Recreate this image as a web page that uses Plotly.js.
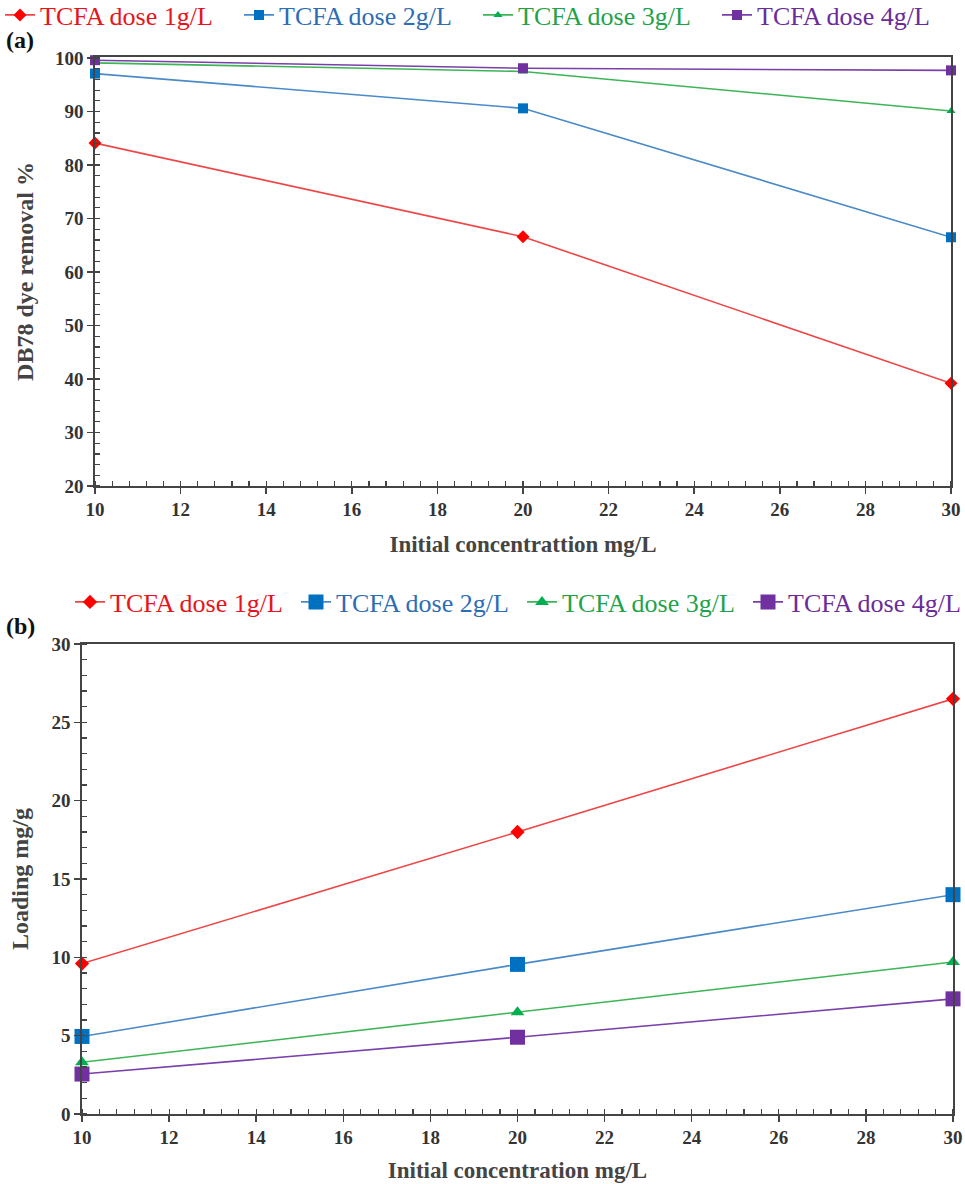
<!DOCTYPE html>
<html>
<head>
<meta charset="utf-8">
<script src="https://cdn.plot.ly/plotly-3.0.1.min.js"></script>
<style>
  html, body { margin: 0; padding: 0; background: #fff; }
  #chart { width: 965px; height: 1184px; }
</style>
</head>
<body>
<div id="chart"></div>
<script>
// Initial dye concentration (mg/L)
const conc = [10, 20, 30];

// (a) DB78 dye removal % for each TCFA dose
const removal1 = [84.1, 66.6, 39.2];
const removal2 = [97.1, 90.6, 66.5];
const removal3 = [99.1, 97.5, 90.1];
const removal4 = [99.6, 98.1, 97.7];

// (b) Loading mg/g for each TCFA dose
const loading1 = [9.6, 18.0, 26.5];
const loading2 = [4.95, 9.55, 14.0];
const loading3 = [3.3, 6.5, 9.7];
const loading4 = [2.55, 4.9, 7.35];

const seriesNames = ['TCFA dose 1g/L', 'TCFA dose 2g/L', 'TCFA dose 3g/L', 'TCFA dose 4g/L'];
const markerColors = ['#FF0000', '#0070C0', '#00B050', '#7030A0'];
const lineColors = ['#F04545', '#4A8AC8', '#3DB556', '#7A3FAA'];
const textColors = ['#E8141C', '#2E6DB4', '#1FA34A', '#6A2C9A'];
const symbols = ['diamond', 'square', 'triangle-up', 'square'];
const sizesA = [10, 10, 8, 10];
const sizesB = [11, 15, 12, 15];

const W = 965, H = 1184;
const SERIF = 'Liberation Serif, Times New Roman, serif';

function label(i) {
  return '<span style="color:' + textColors[i] + '">' + seriesNames[i] + '</span>';
}

const traces = [];
[removal1, removal2, removal3, removal4].forEach((ys, i) => {
  traces.push({
    x: conc, y: ys, xaxis: 'x', yaxis: 'y', legend: 'legend',
    type: 'scatter', mode: 'lines+markers', name: label(i), cliponaxis: false,
    line: { color: lineColors[i], width: 1.6 },
    marker: { symbol: symbols[i], size: sizesA[i], color: markerColors[i] }
  });
});
[loading1, loading2, loading3, loading4].forEach((ys, i) => {
  traces.push({
    x: conc, y: ys, xaxis: 'x2', yaxis: 'y2', legend: 'legend2',
    type: 'scatter', mode: 'lines+markers', name: label(i), cliponaxis: false,
    line: { color: lineColors[i], width: 1.6 },
    marker: { symbol: symbols[i], size: sizesB[i], color: markerColors[i] }
  });
});

const tickFont = { family: SERIF, size: 19, color: '#333333', weight: 'bold' };
const xTitleFont = { family: SERIF, size: 23, color: '#444444', weight: 'bold' };
const yTitleFont = { family: SERIF, size: 24, color: '#444444', weight: 'bold' };

function axisCommon(extra) {
  return Object.assign({
    showline: true, linecolor: '#444444', linewidth: 1.6, mirror: true,
    showgrid: false, zeroline: false,
    ticks: 'outside', ticklen: 6, tickwidth: 1.5, tickcolor: '#444444',
    tickfont: tickFont, fixedrange: true
  }, extra);
}

const layout = {
  width: W, height: H,
  margin: { l: 0, r: 0, t: 0, b: 0, autoexpand: false },
  paper_bgcolor: '#fff', plot_bgcolor: '#fff',
  showlegend: true,
  xaxis: axisCommon({
    domain: [95 / W, 951 / W], anchor: 'y',
    range: [10, 30], tickvals: [10, 12, 14, 16, 18, 20, 22, 24, 26, 28, 30],
    minor: { dtick: 0.4, tick0: 10, ticks: 'inside', ticklen: 5, tickwidth: 1.2, tickcolor: '#444444' },
    title: { text: 'Initial concentrattion mg/L', font: xTitleFont, standoff: 16 }
  }),
  yaxis: axisCommon({
    domain: [1 - 486 / H, 1 - 57 / H], anchor: 'x',
    range: [20, 100.2], tickvals: [20, 30, 40, 50, 60, 70, 80, 90, 100],
    minor: { dtick: 2, tick0: 20, ticks: 'inside', ticklen: 5, tickwidth: 1.2, tickcolor: '#444444' },
    title: { text: 'DB78 dye removal %', font: yTitleFont, standoff: 14 }
  }),
  xaxis2: axisCommon({
    domain: [82 / W, 953 / W], anchor: 'y2',
    range: [10, 30], tickvals: [10, 12, 14, 16, 18, 20, 22, 24, 26, 28, 30],
    minor: { dtick: 0.4, tick0: 10, ticks: 'inside', ticklen: 5, tickwidth: 1.2, tickcolor: '#444444' },
    title: { text: 'Initial concentration mg/L', font: xTitleFont, standoff: 14 }
  }),
  yaxis2: axisCommon({
    domain: [1 - 1114 / H, 1 - 644 / H], anchor: 'x2',
    range: [0, 30], tickvals: [0, 5, 10, 15, 20, 25, 30],
    minor: { dtick: 1, tick0: 0, ticks: 'inside', ticklen: 5, tickwidth: 1.2, tickcolor: '#444444' },
    title: { text: 'Loading mg/g', font: yTitleFont, standoff: 16 }
  }),
  legend: {
    orientation: 'h', x: 0, xanchor: 'left', y: 1 - 15 / H, yanchor: 'middle',
    font: { family: SERIF, size: 26 }, bgcolor: 'rgba(0,0,0,0)',
    itemwidth: 30, entrywidth: 194, entrywidthmode: 'pixels'
  },
  legend2: {
    orientation: 'h', x: 70 / W, xanchor: 'left', y: 1 - 602 / H, yanchor: 'middle',
    font: { family: SERIF, size: 26 }, bgcolor: 'rgba(0,0,0,0)',
    itemwidth: 30, entrywidth: 181, entrywidthmode: 'pixels'
  },
  annotations: [
    { text: '(a)', x: 4 / W, y: 1 - 40 / H, xref: 'paper', yref: 'paper', xanchor: 'left', yanchor: 'middle',
      showarrow: false, font: { family: SERIF, size: 24, color: '#111', weight: 'bold' } },
    { text: '(b)', x: 4 / W, y: 1 - 626 / H, xref: 'paper', yref: 'paper', xanchor: 'left', yanchor: 'middle',
      showarrow: false, font: { family: SERIF, size: 24, color: '#111', weight: 'bold' } }
  ]
};

Plotly.newPlot('chart', traces, layout, { displayModeBar: false, staticPlot: true });
</script>
</body>
</html>
